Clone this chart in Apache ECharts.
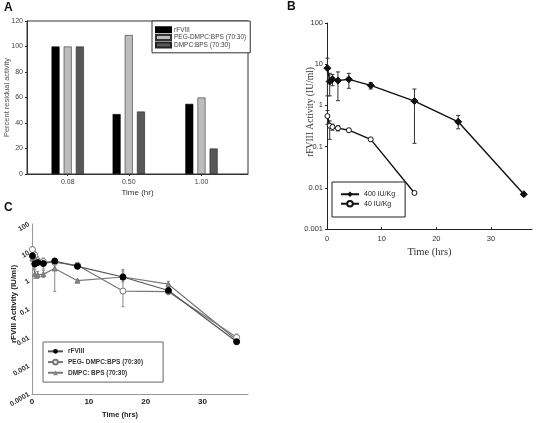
<!DOCTYPE html>
<html>
<head>
<meta charset="utf-8">
<script src="https://cdn.jsdelivr.net/npm/echarts@6/dist/echarts.min.js"></script>
<style>html,body{margin:0;padding:0;background:#fff;}#chart{width:538px;height:423px;}</style>
</head>
<body>
<div id="chart"></div>
<script>
// ---------- Panel A data ----------
const aTimes = [0.08, 0.5, 1.0];
const aTickLabels = ['0.08', '0.50', '1.00'];
const aNames = ['rFVIII', 'PEG-DMPC:BPS (70:30)', 'DMPC:BPS (70:30)'];
const aRfviii = [100, 47, 55];
const aPeg = [100, 109, 60];
const aDmpc = [100, 49, 20];

// ---------- Panel B data ----------
const bTimes400 = [0.08, 0.5, 1, 2, 4, 8, 16, 24, 36];
const b400 = [8.0, 3.8, 4.3, 4.0, 4.3, 3.05, 1.27, 0.4, 0.007];
const b400Lo = [1.7, 1.7, 3.0, 1.3, 2.6, 2.5, 0.12, 0.27, 0.007];
const b400Hi = [14, 6.0, 5.6, 6.5, 6.0, 3.6, 2.5, 0.57, 0.007];
const bTimes40 = [0.08, 0.5, 1, 2, 4, 8, 16];
const b40 = [0.55, 0.32, 0.3, 0.28, 0.25, 0.15, 0.0075];
const b40Lo = [0.35, 0.15, 0.25, 0.24, 0.23, 0.14, 0.0075];
const b40Hi = [0.75, 0.42, 0.35, 0.32, 0.27, 0.16, 0.0075];
const bNames = ['400 IU/Kg', '40 IU/Kg'];

// ---------- Panel C data ----------
const cTimes = [0.08, 0.5, 1, 2, 4, 8, 16, 24, 36];
const cRfviii = [7.5, 3.9, 4.4, 4.0, 4.9, 3.2, 1.35, 0.45, 0.007];
const cRfviiiLo = [5, 2.8, 3.5, 2.6, 3.8, 2.8, 0.9, 0.38, 0.006];
const cRfviiiHi = [11, 5.5, 5.5, 6.2, 6.0, 3.6, 2.2, 0.55, 0.008];
const cPeg = [12.5, 8, 5, 4.7, 4.4, 3.5, 0.43, 0.41, 0.010];
const cPegLo = [9, 5.5, 3.8, 3.6, 3.6, 3.0, 0.12, 0.32, 0.008];
const cPegHi = [16, 11, 7, 6.2, 5.4, 4.0, 2.5, 0.52, 0.013];
const cDmpc = [6, 1.7, 1.6, 1.7, 2.7, 1.0, 1.35, 0.75, 0.008];
const cDmpcLo = [4, 1.2, 1.2, 1.3, 0.42, 0.9, 1.0, 0.55, 0.007];
const cDmpcHi = [8, 2.4, 2.1, 2.3, 6.2, 1.1, 1.8, 0.95, 0.010];
const cNames = ['rFVIII (C)', 'PEG- DMPC:BPS (70:30)', 'DMPC: BPS (70:30)'];

const pairs = (xs, ys) => xs.map((x, i) => [x, ys[i]]);
const triples = (xs, lo, hi) => xs.map((x, i) => [x, lo[i], hi[i]]);
const logFmt = v => String(Number(Number(v).toPrecision(6)));

function errRender(color, cap) {
  return function (params, api) {
    const x = api.value(0), lo = api.value(1), hi = api.value(2);
    const p1 = api.coord([x, lo]), p2 = api.coord([x, hi]);
    const st = { stroke: color, lineWidth: 1 };
    return { type: 'group', children: [
      { type: 'line', shape: { x1: p1[0], y1: p1[1], x2: p2[0], y2: p2[1] }, style: st },
      { type: 'line', shape: { x1: p1[0] - cap, y1: p1[1], x2: p1[0] + cap, y2: p1[1] }, style: st },
      { type: 'line', shape: { x1: p2[0] - cap, y1: p2[1], x2: p2[0] + cap, y2: p2[1] }, style: st }
    ]};
  };
}

const sansA = { fontFamily: 'Liberation Sans, Arial, sans-serif', fontSize: 7, color: '#444' };
const cFont = 'Liberation Sans Narrow, Liberation Sans, Arial, sans-serif';

const option = {
  animation: false,
  backgroundColor: '#fff',
  title: [
    { text: 'A', left: 4, top: 2, padding: 0, textStyle: { fontSize: 12, fontWeight: 'bold', fontFamily: 'Liberation Sans, Arial', color: '#111' } },
    { text: 'B', left: 287, top: 1, padding: 0, textStyle: { fontSize: 12, fontWeight: 'bold', fontFamily: 'Liberation Sans, Arial', color: '#111' } },
    { text: 'C', left: 4, top: 202, padding: 0, textStyle: { fontSize: 12, fontWeight: 'bold', fontFamily: 'Liberation Sans, Arial', color: '#111' } }
  ],
  grid: [
    { left: 27, top: 21, right: 290, bottom: 249, show: true, borderColor: '#333', borderWidth: 1, backgroundColor: 'transparent' },
    { left: 327, top: 23, right: 6, bottom: 194 },
    { left: 32, top: 224, right: 290, bottom: 29 }
  ],
  legend: [
    {
      data: aNames, orient: 'vertical', left: 152, top: 21, width: 96,
      padding: [5, 4, 4, 3], itemGap: 0, itemWidth: 15, itemHeight: 5,
      borderColor: '#333', borderWidth: 1, backgroundColor: '#fff',
      textStyle: { fontFamily: 'Liberation Sans, Arial', fontSize: 6.5, color: '#444', lineHeight: 7.6, padding: [0, 0, 0, -2] },
      icon: 'rect'
    },
    {
      data: bNames, orient: 'vertical', left: 332, top: 182,
      padding: [8, 10, 9, 8], itemGap: 1, itemWidth: 18, itemHeight: 7,
      borderColor: '#222', borderWidth: 1, backgroundColor: '#fff',
      textStyle: { fontFamily: 'Liberation Sans, Arial', fontSize: 7, color: '#222', lineHeight: 8.5 }
    },
    {
      data: cNames, orient: 'vertical', left: 43, top: 342,
      padding: [5, 20, 5, 4], itemGap: 2, itemWidth: 15, itemHeight: 6,
      borderColor: '#666', borderWidth: 1, backgroundColor: '#fff',
      formatter: n => n === 'rFVIII (C)' ? 'rFVIII' : n,
      textStyle: { fontFamily: cFont, fontSize: 6.5, fontWeight: 'bold', color: '#333', lineHeight: 8.7 }
    }
  ],
  xAxis: [
    {
      gridIndex: 0, type: 'value', min: -0.2, max: 1.32,
      name: 'Time (hr)', nameLocation: 'middle', nameGap: 15, nameMoveOverlap: false,
      nameTextStyle: { fontFamily: 'Liberation Sans, Arial', fontSize: 8, color: '#333' },
      axisLine: { onZero: false, lineStyle: { color: '#333' } },
      axisTick: { show: true, length: 2, customValues: aTimes, lineStyle: { color: '#333' } },
      axisLabel: { customValues: aTimes, formatter: v => aTickLabels[aTimes.indexOf(v)] ?? '', ...sansA, margin: 5 },
      splitLine: { show: false }
    },
    {
      gridIndex: 1, type: 'value', min: 0, max: 37.5, interval: 10,
      name: 'Time (hrs)', nameLocation: 'middle', nameGap: 18, nameMoveOverlap: false,
      nameTextStyle: { fontFamily: 'Liberation Serif, Times New Roman, serif', fontSize: 10.5, color: '#333' },
      axisLine: { onZero: false, lineStyle: { color: '#222', width: 1 } },
      axisTick: { show: true, length: 2, inside: true, lineStyle: { color: '#222' } },
      axisLabel: { fontFamily: 'Liberation Sans, Arial', fontSize: 7.5, color: '#333', margin: 6, showMaxLabel: false },
      splitLine: { show: false }
    },
    {
      gridIndex: 2, type: 'value', min: 0, max: 38, interval: 10,
      name: 'Time (hrs)', nameLocation: 'middle', nameGap: 17, nameMoveOverlap: false,
      nameTextStyle: { fontFamily: cFont, fontSize: 7.5, fontWeight: 'bold', color: '#222', padding: [0, 40, 0, 0] },
      axisLine: { onZero: false, lineStyle: { color: '#999', width: 1 } },
      axisTick: { show: false },
      axisLabel: { fontFamily: cFont, fontSize: 8, fontWeight: 'bold', color: '#222', margin: 4, showMaxLabel: false },
      splitLine: { show: false }
    }
  ],
  yAxis: [
    {
      gridIndex: 0, type: 'value', min: 0, max: 120, interval: 20,
      name: 'Percent residual activity', nameLocation: 'middle', nameGap: 16, nameMoveOverlap: false,
      nameTextStyle: { fontFamily: 'Liberation Sans, Arial', fontSize: 7.5, color: '#555' },
      axisLine: { show: true, onZero: false, lineStyle: { color: '#333' } },
      axisTick: { show: true, length: 2, lineStyle: { color: '#333' } },
      axisLabel: { ...sansA, margin: 4 },
      splitLine: { show: false }
    },
    {
      gridIndex: 1, type: 'log', logBase: 10, min: 0.001, max: 100,
      name: 'rFVIII Activity (IU/ml)', nameLocation: 'middle', nameGap: 12, nameMoveOverlap: false,
      nameTextStyle: { fontFamily: 'Liberation Serif, Times New Roman, serif', fontSize: 9.5, color: '#333', padding: [0, 0, 0, 28] },
      axisLine: { show: true, onZero: false, lineStyle: { color: '#222' } },
      axisTick: { show: true, length: 2, lineStyle: { color: '#222' } },
      axisLabel: { formatter: logFmt, fontFamily: 'Liberation Sans, Arial', fontSize: 7.5, color: '#333', margin: 4 },
      splitLine: { show: false }, minorTick: { show: false }
    },
    {
      gridIndex: 2, type: 'log', logBase: 10, min: 0.0001, max: 100, splitNumber: 6,
      name: 'rFVIII Activity (IU/ml)', nameLocation: 'middle', nameGap: 14, nameMoveOverlap: false,
      nameTextStyle: { fontFamily: 'Liberation Sans, Arial, sans-serif', fontSize: 8, fontWeight: 'bold', color: '#222', padding: [0, 0, 0, 10] },
      axisLine: { show: true, onZero: false, lineStyle: { color: '#999' } },
      axisTick: { show: false },
      axisLabel: { formatter: logFmt, rotate: 30, fontFamily: cFont, fontSize: 7, fontWeight: 'bold', color: '#333', margin: 3 },
      splitLine: { show: false }
    }
  ],
  series: [
    // Panel A bars
    { name: aNames[0], type: 'bar', xAxisIndex: 0, yAxisIndex: 0, data: pairs(aTimes, aRfviii), barWidth: 8, barGap: '52%',
      itemStyle: { color: '#000', borderColor: '#000', borderWidth: 0.6 } },
    { name: aNames[1], type: 'bar', xAxisIndex: 0, yAxisIndex: 0, data: pairs(aTimes, aPeg), barWidth: 8, barGap: '52%',
      itemStyle: { color: '#bdbdbd', borderColor: '#333', borderWidth: 0.6 } },
    { name: aNames[2], type: 'bar', xAxisIndex: 0, yAxisIndex: 0, data: pairs(aTimes, aDmpc), barWidth: 8, barGap: '52%',
      itemStyle: { color: '#585858', borderColor: '#222', borderWidth: 0.6 } },

    // Panel B error bars
    { type: 'custom', xAxisIndex: 1, yAxisIndex: 1, data: triples(bTimes400, b400Lo, b400Hi), renderItem: errRender('#333', 2), encode: { x: 0, y: [1, 2] }, z: 1, silent: true },
    { type: 'custom', xAxisIndex: 1, yAxisIndex: 1, data: triples(bTimes40, b40Lo, b40Hi), renderItem: errRender('#333', 2), encode: { x: 0, y: [1, 2] }, z: 1, silent: true },
    // Panel B lines
    { name: bNames[0], type: 'line', xAxisIndex: 1, yAxisIndex: 1, data: pairs(bTimes400, b400),
      symbol: 'diamond', symbolSize: 7, showAllSymbol: true,
      lineStyle: { color: '#111', width: 1.4 }, itemStyle: { color: '#111', borderColor: '#111' }, z: 3 },
    { name: bNames[1], type: 'line', xAxisIndex: 1, yAxisIndex: 1, data: pairs(bTimes40, b40),
      symbol: 'circle', symbolSize: 5, showAllSymbol: true,
      lineStyle: { color: '#111', width: 1.4 }, itemStyle: { color: '#fff', borderColor: '#111', borderWidth: 1 }, z: 3 },

    // Panel C error bars
    { type: 'custom', xAxisIndex: 2, yAxisIndex: 2, data: triples(cTimes, cRfviiiLo, cRfviiiHi), renderItem: errRender('#888', 1.5), encode: { x: 0, y: [1, 2] }, z: 1, silent: true },
    { type: 'custom', xAxisIndex: 2, yAxisIndex: 2, data: triples(cTimes, cPegLo, cPegHi), renderItem: errRender('#888', 1.5), encode: { x: 0, y: [1, 2] }, z: 1, silent: true },
    { type: 'custom', xAxisIndex: 2, yAxisIndex: 2, data: triples(cTimes, cDmpcLo, cDmpcHi), renderItem: errRender('#888', 1.5), encode: { x: 0, y: [1, 2] }, z: 1, silent: true },
    // Panel C lines
    { name: cNames[2], type: 'line', xAxisIndex: 2, yAxisIndex: 2, data: pairs(cTimes, cDmpc),
      symbol: 'triangle', symbolSize: 5, showAllSymbol: true,
      lineStyle: { color: '#777', width: 1.2 }, itemStyle: { color: '#888', borderColor: '#777' }, z: 2 },
    { name: cNames[1], type: 'line', xAxisIndex: 2, yAxisIndex: 2, data: pairs(cTimes, cPeg),
      symbol: 'circle', symbolSize: 6, showAllSymbol: true,
      lineStyle: { color: '#777', width: 1.2 }, itemStyle: { color: '#fff', borderColor: '#777', borderWidth: 1 }, z: 3 },
    { name: cNames[0], type: 'line', xAxisIndex: 2, yAxisIndex: 2, data: pairs(cTimes, cRfviii),
      symbol: 'circle', symbolSize: 6, showAllSymbol: true,
      lineStyle: { color: '#555', width: 1.2 }, itemStyle: { color: '#000', borderColor: '#000' }, z: 4 }
  ]
};

const chart = echarts.init(document.getElementById('chart'), null, { renderer: 'canvas' });
chart.setOption(option);
</script>
</body>
</html>
